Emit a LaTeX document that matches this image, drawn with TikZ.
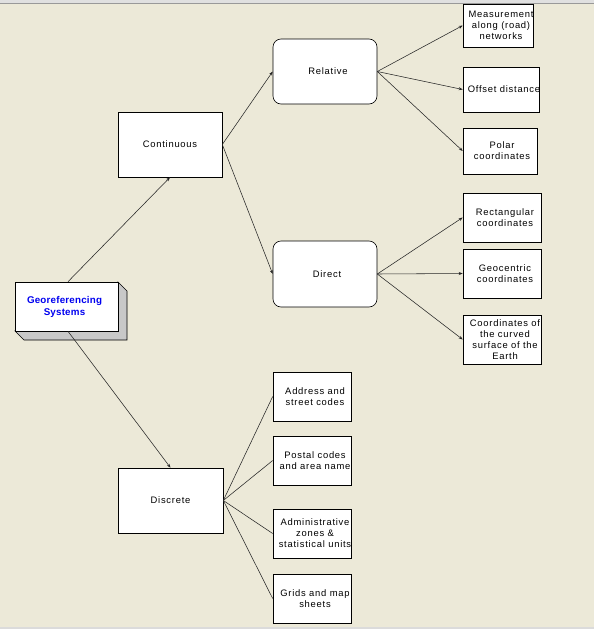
\documentclass[tikz,border=0pt]{standalone}
\usepackage{fontspec}
\setmainfont{Liberation Sans}[LetterSpace=8]
\usetikzlibrary{arrows.meta}
\definecolor{bg}{HTML}{ECE9D8}
\definecolor{sidegray}{HTML}{C8C8C8}
\definecolor{geoblue}{HTML}{0000F0}
\tikzset{
  box/.style={draw=black, fill=white, line width=0.6pt, inner sep=0pt},
  rbox/.style={box, rounded corners=8pt},
  txt/.style={font=\fontsize{9.4}{11}\selectfont, align=center, inner sep=0pt, text=black},
  conn/.style={draw=black!85, line width=0.55pt},
  arr/.style={conn, -{Stealth[length=4pt,width=3pt]}}
}
\begin{document}
\begin{tikzpicture}[x=1pt,y=-1pt]
\useasboundingbox (0,0) rectangle (594,629);
\fill[bg] (0,0) rectangle (594,629);
\fill[black!12] (0,0) rectangle (594,3);
\draw[black!40, line width=1pt] (0,3.5) -- (594,3.5);
\fill[black!14] (0,627) rectangle (594,629);

% 3D georeferencing box
\fill[sidegray, draw=black, line width=0.6pt] (118,282) -- (127,291) -- (127,340) -- (24,340) -- (15,331) -- (118,331) -- cycle;
\node[box, minimum width=103pt, minimum height=49pt] (geo) at (66.5,306.5) {};
\node[txt, text=geoblue, font=\fontsize{9.8}{12}\selectfont\bfseries\addfontfeatures{LetterSpace=2}] (geot) at ([xshift=-2pt]geo.center) {Georeferencing\\Systems};

% level 1
\node[box, minimum width=104pt, minimum height=65pt] (cont) at (170,144.5) {};
\node[txt] (contt) at (cont) {Continuous};
\node[box, minimum width=105pt, minimum height=65pt] (disc) at (170.5,500.5) {};
\node[txt] (disct) at (disc) {Discrete};

% level 2
\node[rbox, minimum width=104pt, minimum height=65pt] (rel) at (325,71.5) {};
\node[txt] (relt) at ([xshift=3pt]rel.center) {Relative};
\node[rbox, minimum width=104pt, minimum height=66pt] (dir) at (325,274) {};
\node[txt] (dirt) at ([xshift=2pt]dir.center) {Direct};

% relative children
\node[box, minimum width=70pt, minimum height=43pt] (meas) at (498,25.5) {};
\node[txt] (meast) at ([xshift=3pt]meas.center) {Measurement\\along (road)\\networks};
\node[box, minimum width=76pt, minimum height=45pt] (off) at (501,89.5) {};
\node[txt] (offt) at ([xshift=3pt]off.center) {Offset distance};
\node[box, minimum width=74pt, minimum height=46pt] (pol) at (500,151) {};
\node[txt] (polt) at ([xshift=2pt]pol.center) {Polar\\coordinates};

% direct children
\node[box, minimum width=78pt, minimum height=49pt] (rect) at (502,217.5) {};
\node[txt] (rectt) at ([xshift=3pt]rect.center) {Rectangular\\coordinates};
\node[box, minimum width=78pt, minimum height=49pt] (geoc) at (502,273.5) {};
\node[txt] (geoct) at ([xshift=3pt]geoc.center) {Geocentric\\coordinates};
\node[box, minimum width=78pt, minimum height=49pt] (curv) at (502,339.5) {};
\node[txt] (curvt) at ([xshift=3pt]curv.center) {Coordinates of\\the curved\\surface of the\\Earth};

% discrete children
\node[box, minimum width=78pt, minimum height=49pt] (addr) at (312,396.5) {};
\node[txt] (addrt) at ([xshift=3pt]addr.center) {Address and\\street codes};
\node[box, minimum width=78pt, minimum height=49pt] (post) at (312,460.5) {};
\node[txt] (postt) at ([xshift=3pt]post.center) {Postal codes\\and area name};
\node[box, minimum width=78pt, minimum height=49pt] (adm) at (312,533.5) {};
\node[txt] (admt) at ([xshift=3pt]adm.center) {Administrative\\zones \&\\statistical units};
\node[box, minimum width=78pt, minimum height=49pt] (grid) at (312,598.5) {};
\node[txt] (gridt) at ([xshift=3pt]grid.center) {Grids and map\\sheets};

% connectors
\draw[arr] ([xshift=1.5pt]geo.north) -- (cont.south);
\draw[arr] ([xshift=1.5pt]geo.south) -- (disc.north);
\draw[arr] (cont.east) -- (rel.west);
\draw[arr] (cont.east) -- (dir.west);
\draw[arr] (rel.east) -- (meas.west);
\draw[arr] (rel.east) -- (off.west);
\draw[arr] (rel.east) -- (pol.west);
\draw[arr] (dir.east) -- (rect.west);
\draw[arr] (dir.east) -- (geoc.west);
\draw[arr] (dir.east) -- (curv.west);
\draw[conn] (disc.east) -- (addr.west);
\draw[conn] (disc.east) -- (post.west);
\draw[conn] (disc.east) -- (adm.west);
\draw[conn] (disc.east) -- (grid.west);
\end{tikzpicture}
\end{document}
